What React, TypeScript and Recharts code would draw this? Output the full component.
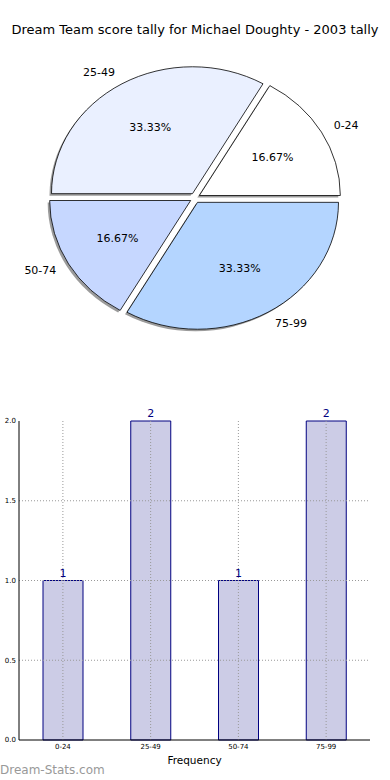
import React from 'react';
import { PieChart, Pie, Cell, BarChart, Bar, XAxis, YAxis, ReferenceLine, LabelList } from 'recharts';

const categories = ['0-24', '25-49', '50-74', '75-99'];
const frequencies = [1, 2, 1, 2];
const pieColors = ['#FFFFFF', '#EAF0FF', '#C6D7FF', '#B4D5FF'];
const yTicks = [0, 0.5, 1, 1.5, 2];
const gridY = [0.5, 1, 1.5];

const FONT = '"DejaVu Sans", sans-serif';
const RY_RATIO = 0.9;
const EXPLODE = 5;
const RAD = Math.PI / 180;

const data = categories.map((c, i) => ({ name: c, value: frequencies[i] }));

function wedgePath(cx: number, cy: number, rx: number, ry: number, sa: number, ea: number) {
  const x1 = cx + rx * Math.cos(sa * RAD);
  const y1 = cy - ry * Math.sin(sa * RAD);
  const x2 = cx + rx * Math.cos(ea * RAD);
  const y2 = cy - ry * Math.sin(ea * RAD);
  const large = Math.abs(ea - sa) > 180 ? 1 : 0;
  return `M${cx},${cy} L${x1},${y1} A${rx},${ry} 0 ${large} 0 ${x2},${y2} Z`;
}

const WedgeShape = (props: any) => {
  const { cx, cy, outerRadius, startAngle, endAngle, fill } = props;
  const mid = (startAngle + endAngle) / 2;
  const ox = cx + EXPLODE * Math.cos(mid * RAD);
  const oy = cy - EXPLODE * Math.sin(mid * RAD);
  const rx = outerRadius;
  const ry = outerRadius * RY_RATIO;
  return (
    <g>
      <path d={wedgePath(ox - 2, oy + 2, rx, ry, startAngle, endAngle)} fill="#8a8a8a" fillOpacity={0.85} stroke="none" />
      <path d={wedgePath(ox, oy, rx, ry, startAngle, endAngle)} fill={fill} stroke="#000" strokeWidth={0.8} strokeLinejoin="round" />
    </g>
  );
};

const renderPieLabel = (props: any) => {
  const { cx, cy, midAngle, outerRadius, percent, name } = props;
  const c = Math.cos(midAngle * RAD);
  const s = Math.sin(midAngle * RAD);
  const ox = cx + EXPLODE * c;
  const oy = cy - EXPLODE * s;
  const rx = outerRadius;
  const ry = outerRadius * RY_RATIO;
  const lx = ox + 1.1 * rx * c;
  const ly = oy - 1.1 * ry * s;
  const px = ox + 0.6 * rx * c;
  const py = oy - 0.6 * ry * s;
  return (
    <g>
      <text x={lx} y={ly} textAnchor={c >= 0 ? 'start' : 'end'} dominantBaseline="central" fontSize={11} fontFamily={FONT} fill="#000">
        {name}
      </text>
      <text x={px} y={py} textAnchor="middle" dominantBaseline="central" fontSize={11} fontFamily={FONT} fill="#000">
        {(percent * 100).toFixed(2) + '%'}
      </text>
    </g>
  );
};

export default function App() {
  return (
    <div style={{ position: 'absolute', left: 0, top: 0, width: 390, height: 780, background: '#fff', fontFamily: FONT }}>
      <div style={{ position: 'absolute', left: 0, top: 21, width: 390, textAlign: 'center', fontSize: 13, color: '#000', fontFamily: FONT, lineHeight: '18px' }}>
        Dream Team score tally for Michael Doughty - 2003 tally
      </div>
      <div style={{ position: 'absolute', left: 0, top: 0 }}>
        <PieChart width={390} height={400} margin={{ top: 0, right: 0, bottom: 0, left: 0 }}>
          <Pie
            data={data}
            dataKey="value"
            nameKey="name"
            cx={195}
            cy={198}
            outerRadius={141}
            startAngle={0}
            endAngle={360}
            isAnimationActive={false}
            labelLine={false}
            label={renderPieLabel}
            shape={WedgeShape}
            stroke="none"
          >
            {data.map((d, i) => (
              <Cell key={d.name} fill={pieColors[i]} />
            ))}
          </Pie>
        </PieChart>
      </div>
      <div style={{ position: 'absolute', left: 0, top: 400 }}>
        <BarChart width={390} height={380} data={data} margin={{ top: 21, right: 20, left: 0, bottom: 10 }}>
          <XAxis
            dataKey="name"
            height={30}
            axisLine={{ stroke: '#000', strokeWidth: 1 }}
            tickLine={false}
            tickSize={3}
            tickMargin={1}
            tick={{ fontSize: 7, fill: '#000', fontFamily: FONT }}
            interval={0}
            label={{ value: 'Frequency', position: 'insideBottom', offset: 6, fontSize: 10.5, fill: '#000', fontFamily: FONT }}
          />
          <XAxis xAxisId="top" dataKey="name" orientation="top" height={0} tick={false} tickLine={false} axisLine={{ stroke: '#000', strokeWidth: 1 }} />
          <YAxis
            width={19}
            domain={[0, 2]}
            ticks={yTicks}
            tickFormatter={(v: number) => v.toFixed(1)}
            axisLine={{ stroke: '#000', strokeWidth: 1 }}
            tickLine={false}
            tickSize={3}
            tickMargin={0}
            tick={{ fontSize: 7, fill: '#000', fontFamily: FONT }}
          />
          <YAxis yAxisId="right" orientation="right" width={0} domain={[0, 2]} tick={false} tickLine={false} axisLine={{ stroke: '#000', strokeWidth: 1 }} />
          <Bar dataKey="value" barSize={40} fill="#CCCCE6" stroke="#000080" strokeWidth={1} isAnimationActive={false}>
            <LabelList dataKey="value" position="top" offset={4} fill="#000080" fontSize={11} fontFamily={FONT} />
          </Bar>
          {gridY.map((v) => (
            <ReferenceLine key={'gy' + v} y={v} stroke="#999" strokeDasharray="1 2" strokeWidth={1} />
          ))}
          {categories.map((c) => (
            <ReferenceLine key={'gx' + c} x={c} stroke="#999" strokeDasharray="1 2" strokeWidth={1} />
          ))}
        </BarChart>
      </div>
      <div style={{ position: 'absolute', left: 0, top: 762, fontSize: 12, color: '#999', fontFamily: FONT, lineHeight: '16px' }}>
        Dream-Stats.com
      </div>
    </div>
  );
}
